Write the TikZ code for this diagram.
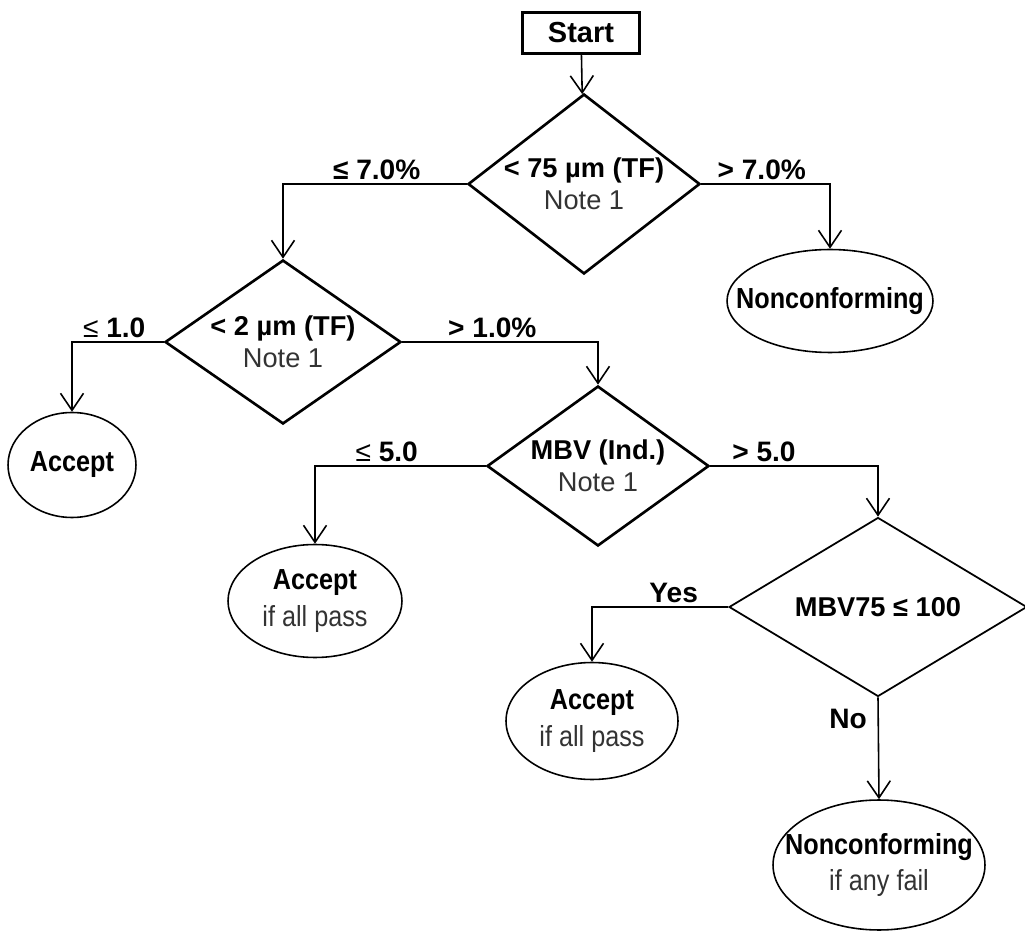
\documentclass[tikz,border=0pt]{standalone}
\usepackage{fontspec}
\setmainfont{Liberation Sans}
\newfontfamily\estrecha[FakeStretch=0.87]{Liberation Sans}
\usetikzlibrary{shapes.geometric,arrows.meta}
\definecolor{gristexto}{gray}{0.2}

\begin{document}
\begin{tikzpicture}[
	x=0.02cm, y=-0.02cm,
	decision/.style={diamond, draw, line width=1.5pt, inner sep=0pt, align=center,
		font=\fontsize{15.5}{18}\selectfont},
	terminal/.style={ellipse, draw, line width=0.9pt, inner sep=0pt, align=center,
		font=\estrecha\fontsize{16.5}{21}\selectfont},
	inicio/.style={rectangle, draw, line width=1.3pt, minimum width=2.34cm, minimum height=0.82cm,
		font=\fontsize{16.5}{18}\selectfont\bfseries},
	flecha/.style={draw, line width=0.9pt, -{Straight Barb[length=3.4mm,width=4.6mm,line width=0.9pt]}},
	etiqueta/.style={font=\fontsize{16}{18}\selectfont\bfseries, inner sep=2pt}
]
\useasboundingbox (0,0) rectangle (1025,932);

% Nodo inicial
\node[inicio] (start) at (581,33) {Start};

% Decisiones
\node[decision, shape aspect=1.29, minimum width=4.64cm, minimum height=3.6cm] (d1) at (584,184)
	{\textbf{< 75 µm (TF)}\\{\color{gristexto}Note 1}};
\node[decision, shape aspect=1.44, minimum width=4.72cm, minimum height=3.28cm] (d2) at (283,342)
	{\textbf{< 2 µm (TF)}\\{\color{gristexto}Note 1}};
\node[decision, shape aspect=1.39, minimum width=4.44cm, minimum height=3.2cm] (d3) at (598,466)
	{\textbf{MBV (Ind.)}\\{\color{gristexto}Note 1}};
\node[decision, shape aspect=1.67, line width=1pt, minimum width=5.96cm, minimum height=3.58cm] (d4) at (878,607)
	{\textbf{MBV75 ≤ 100}};

% Resultados
\node[terminal, inner xsep=-0.44cm, minimum width=4.12cm, minimum height=2.06cm] (nc1) at (830,301)
	{\textbf{Nonconforming}};
\node[terminal, minimum width=2.56cm, minimum height=2.1cm] (ac1) at (72,465)
	{\textbf{Accept}};
\node[terminal, minimum width=3.48cm, minimum height=2.26cm] (ac2) at (315,601)
	{\textbf{Accept}\\{\color{gristexto}if all pass}};
\node[terminal, minimum width=3.44cm, minimum height=2.34cm] (ac3) at (592,721)
	{\textbf{Accept}\\{\color{gristexto}if all pass}};
\node[terminal, inner xsep=-0.4cm, minimum width=4.24cm, minimum height=2.6cm] (nc2) at (879,865)
	{\textbf{Nonconforming}\\{\color{gristexto}if any fail}};

% Conectores
\draw[flecha] (start) -- (d1);
\draw[flecha] (d1.west) -| (d2.north) node[etiqueta, above, pos=0.245] (e1) {≤ 7.0\%};
\draw[flecha] (d1.east) -| (nc1.north) node[etiqueta, above, pos=0.235] (e2) {> 7.0\%};
\draw[flecha] (d2.west) -| (ac1.north) node[etiqueta, above, pos=0.27] (e3) {{\mdseries ≤} 1.0};
\draw[flecha] (d2.east) -| (d3.north) node[etiqueta, above, pos=0.23] (e4) {> 1.0\%};
\draw[flecha] (d3.west) -| (ac2.north) node[etiqueta, above, pos=0.29] (e5) {{\mdseries ≤} 5.0};
\draw[flecha] (d3.east) -| (d4.north) node[etiqueta, above, pos=0.16] (e6) {> 5.0};
\draw[flecha] (d4.west) -| (ac3.north) node[etiqueta, above, pos=0.2] (e7) {Yes};
\draw[flecha] (d4.south) -- (nc2.north) node[etiqueta, left=4pt, pos=0.21] (e8) {No};
\end{tikzpicture}
\end{document}
